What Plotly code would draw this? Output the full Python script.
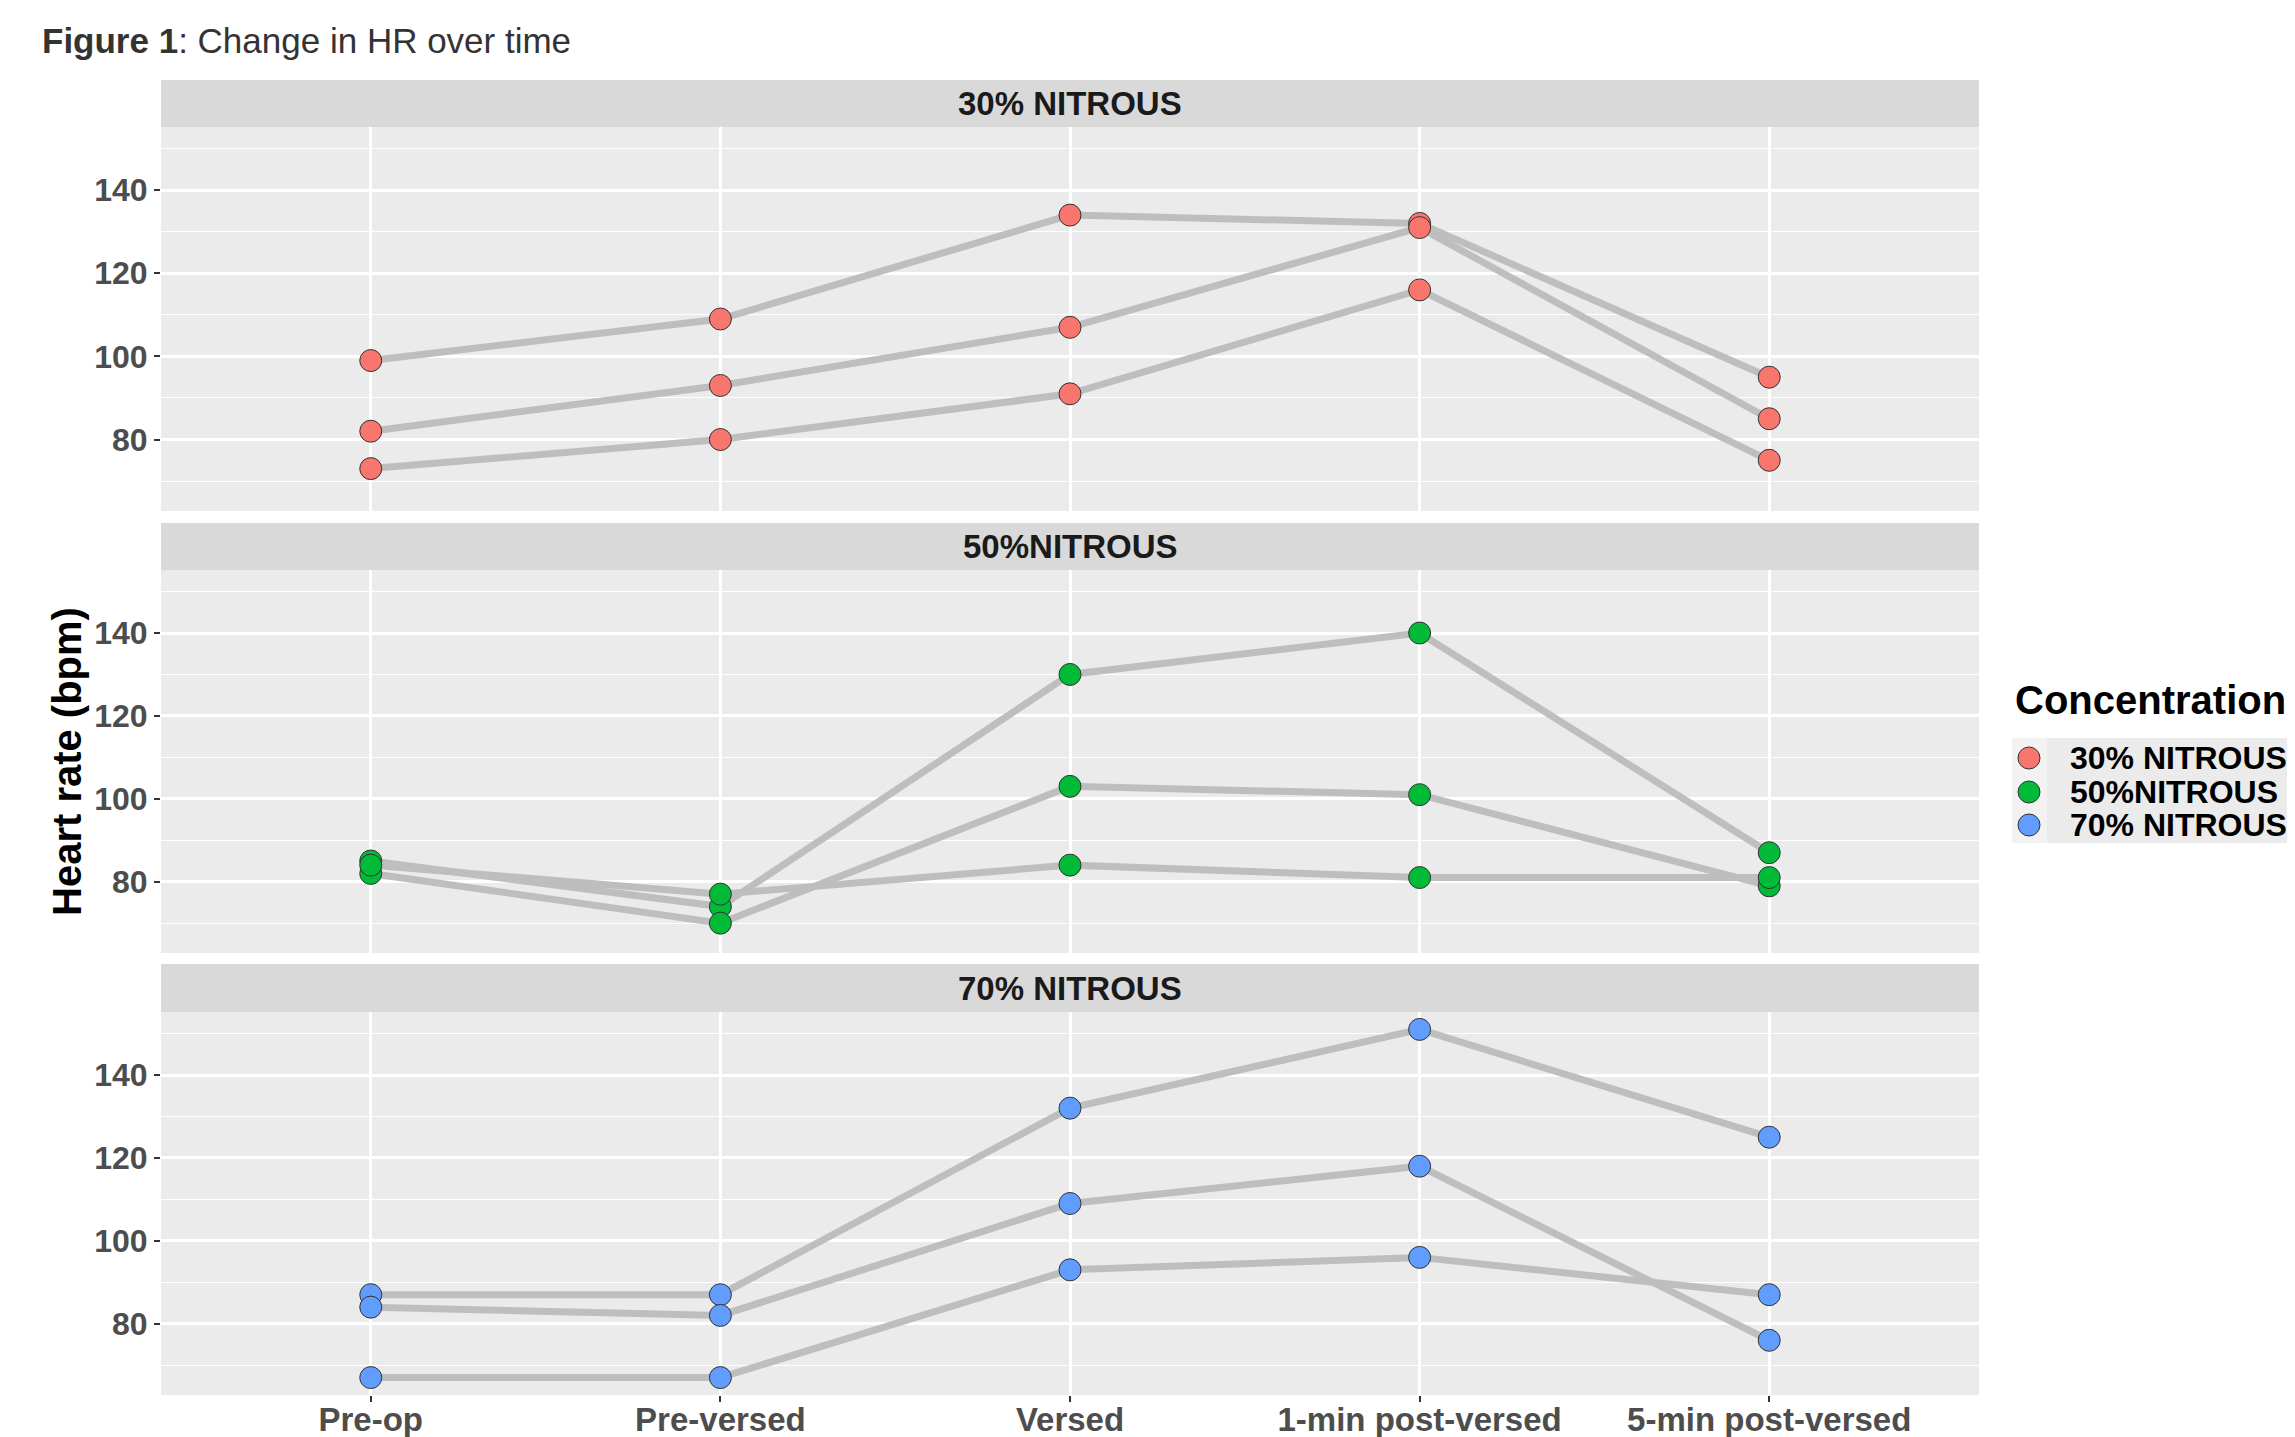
import plotly.graph_objects as go

# ---------------- data ----------------
timepoints = ["Pre-op", "Pre-versed", "Versed", "1-min post-versed", "5-min post-versed"]
concentrations = ["30% NITROUS", "50%NITROUS", "70% NITROUS"]
fill_colors = ["#F8766D", "#00BA38", "#619CFF"]

hr_30 = [
    [99, 109, 134, 132, 95],
    [82, 93, 107, 131, 85],
    [73, 80, 91, 116, 75],
]
hr_50 = [
    [85, 74, 130, 140, 87],
    [82, 70, 103, 101, 79],
    [84, 77, 84, 81, 81],
]
hr_70 = [
    [87, 87, 132, 151, 125],
    [84, 82, 109, 118, 76],
    [67, 67, 93, 96, 87],
]
y_ticks = [80, 100, 120, 140]
minor_ticks = [70, 90, 110, 130, 150]
panels = [hr_30, hr_50, hr_70]

# ---------------- layout constants (reference pixels) ----------------
OFF = 8                      # browser body margin
REF_W, REF_H = 2295, 1437
W, H = REF_W - OFF, REF_H - OFF
ML, MR, MT, MB = 161 - OFF, 0, 80 - OFF, REF_H - 1395
PW = W - ML - MR
PH = H - MT - MB
panel_right_px = 1979

def px_x(x):
    return (x - OFF - ML) / PW

def px_y(y):
    return (H - MB - (y - OFF)) / PH

panel_px = [(127, 511), (570, 953), (1012, 1395)]
strip_px = [(80, 127), (523, 570), (964, 1012)]
xdom = [0, px_x(panel_right_px)]

FONT = "Liberation Sans, Arial, sans-serif"

all_vals = [v for p in panels for row in p for v in row]
lo, hi = min(all_vals), max(all_vals)
pad = 0.05 * (hi - lo)
yrange = [lo - pad, hi + pad]

fig = go.Figure()

for i, (pdata, conc, col) in enumerate(zip(panels, concentrations, fill_colors)):
    ax = "" if i == 0 else str(i + 1)
    for row in pdata:
        fig.add_trace(go.Scatter(
            x=timepoints, y=row, mode="lines",
            line=dict(color="#BEBEBE", width=7),
            xaxis="x" + ax, yaxis="y" + ax, showlegend=False, hoverinfo="skip",
        ))
    for row in pdata:
        fig.add_trace(go.Scatter(
            x=timepoints, y=row, mode="markers",
            marker=dict(size=22, color=col, line=dict(color="#333333", width=1)),
            xaxis="x" + ax, yaxis="y" + ax, showlegend=False, name=conc,
        ))

layout = dict(
    width=W, height=H,
    margin=dict(l=ML, r=MR, t=MT, b=MB, autoexpand=False),
    paper_bgcolor="white",
    plot_bgcolor="#EBEBEB",
    font=dict(family=FONT),
    showlegend=False,
)

for i in range(3):
    ax = "" if i == 0 else str(i + 1)
    top, bot = panel_px[i]
    layout["xaxis" + ax] = dict(
        domain=xdom, anchor="y" + ax, type="category",
        categoryorder="array", categoryarray=timepoints,
        range=[-0.6, len(timepoints) - 1 + 0.6],
        showgrid=True, gridcolor="white", gridwidth=2.5,
        zeroline=False, showline=False, automargin=False,
        showticklabels=(i == 2),
        ticks="outside" if i == 2 else "", ticklen=6, tickwidth=2, tickcolor="#333333",
        ticklabelstandoff=-11,
        tickfont=dict(family=FONT, size=33, color="#4D4D4D", weight="bold"),
        matches="x" if i > 0 else None,
    )
    layout["yaxis" + ax] = dict(
        domain=[px_y(bot), px_y(top)], anchor="x" + ax,
        range=yrange, tickvals=y_ticks, automargin=False,
        showgrid=True, gridcolor="white", gridwidth=2.5,
        minor=dict(tickvals=minor_ticks, showgrid=True, gridcolor="white", gridwidth=1.2),
        zeroline=False, showline=False,
        ticks="outside", ticklen=6, tickwidth=2, tickcolor="#333333",
        tickfont=dict(family=FONT, size=32, color="#4D4D4D", weight="bold"),
    )

# legend axis (manual legend)
leg_left_px = 2012
leg_top_px, leg_bot_px = 738, 843
layout["xaxis4"] = dict(domain=[px_x(leg_left_px), 1], anchor="y4",
                        range=[0, REF_W - leg_left_px], visible=False, fixedrange=True)
layout["yaxis4"] = dict(domain=[px_y(leg_bot_px), px_y(leg_top_px)], anchor="x4",
                        range=[leg_bot_px, leg_top_px], visible=False, fixedrange=True)

shapes = []
annotations = []
for i, conc in enumerate(concentrations):
    s_top, s_bot = strip_px[i]
    shapes.append(dict(type="rect", xref="paper", yref="paper", x0=xdom[0], x1=xdom[1],
                       y0=px_y(s_bot), y1=px_y(s_top), fillcolor="#D9D9D9", line=dict(width=0),
                       layer="below"))
    annotations.append(dict(text=conc, xref="paper", yref="paper", x=(xdom[0] + xdom[1]) / 2,
                            y=px_y((s_top + s_bot) / 2), xanchor="center", yanchor="middle",
                            showarrow=False,
                            font=dict(family=FONT, size=33, color="#1A1A1A", weight="bold")))

# legend key background
shapes.append(dict(type="rect", xref="x4", yref="y4", x0=0, x1=35, y0=leg_top_px, y1=leg_bot_px,
                   fillcolor="#F2F2F2", line=dict(width=0), layer="below"))
item_y = [758, 792, 825]
fig.add_trace(go.Scatter(
    x=[17] * len(concentrations), y=item_y, mode="markers",
    marker=dict(size=22, color=fill_colors, line=dict(color="#333333", width=1)),
    xaxis="x4", yaxis="y4", showlegend=False, hoverinfo="skip",
))
for yy, conc in zip(item_y, concentrations):
    annotations.append(dict(text=conc, xref="x4", yref="y4", x=56, y=yy, xanchor="left",
                            yanchor="middle", showarrow=False,
                            font=dict(family=FONT, size=32, color="black", weight="bold")))
annotations.append(dict(text="Concentration", xref="paper", yref="paper", x=px_x(2013),
                        y=px_y(700), xanchor="left", yanchor="middle", showarrow=False,
                        font=dict(family=FONT, size=40, color="black", weight="bold")))

# y-axis title
annotations.append(dict(text="Heart rate (bpm)", xref="paper", yref="paper", x=px_x(67),
                        y=px_y(762), xanchor="center", yanchor="middle", textangle=-90,
                        showarrow=False,
                        font=dict(family=FONT, size=40, color="black", weight="bold")))

# figure title
annotations.append(dict(text="<b>Figure 1</b>: Change in HR over time", xref="paper", yref="paper",
                        x=px_x(40), y=px_y(41), xanchor="left", yanchor="middle", showarrow=False,
                        font=dict(family=FONT, size=35, color="#333333")))

layout["shapes"] = shapes
layout["annotations"] = annotations
fig.update_layout(**layout)

fig.write_html("out.html")
